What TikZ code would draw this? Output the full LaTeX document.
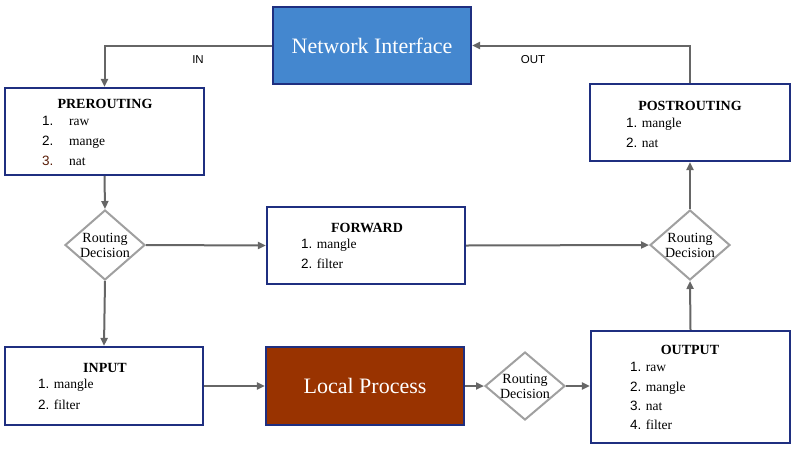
\documentclass[tikz,border=0pt]{standalone}
\usepackage{fontspec}
\setmainfont{Liberation Serif}
\newfontfamily\numfont{Liberation Sans}
\usetikzlibrary{arrows.meta,shapes.geometric}
\definecolor{boxline}{HTML}{1F2F80}
\definecolor{conn}{HTML}{666666}
\definecolor{dline}{HTML}{A0A0A0}
\definecolor{netblue}{HTML}{4487CF}
\definecolor{localred}{HTML}{993300}
\definecolor{numbrown}{HTML}{5A1E08}
\tikzset{
  box/.style={draw=boxline,line width=2.2pt,fill=white,inner sep=0pt},
  bigbox/.style={draw=boxline,line width=2.2pt,inner sep=0pt,text=white,font=\fontsize{22}{24}\selectfont},
  title/.style={font=\fontsize{14}{15}\selectfont\bfseries,inner sep=0pt},
  item/.style={font=\fontsize{13.5}{14}\selectfont,anchor=base west,inner sep=0pt},
  dec/.style={draw=dline,line width=2pt,fill=white,diamond,minimum width=80pt,minimum height=70pt,inner sep=-4pt,align=center,font=\fontsize{14}{15}\selectfont},
  conn/.style={draw=conn,line width=2pt,-{Triangle[length=8pt,width=7pt]}},
  lbl/.style={font=\numfont\fontsize{11.5}{12}\selectfont,inner sep=0pt}
}
\begin{document}
\begin{tikzpicture}[x=1pt,y=-1pt]
\useasboundingbox (0,0) rectangle (795,448);
% boxes
\node[bigbox,fill=netblue,minimum width=198pt,minimum height=77pt] (ni) at (372,45.5) {Network Interface};
\node[bigbox,fill=localred,minimum width=198pt,minimum height=78pt] (lp) at (365,386) {Local Process};
\node[box,minimum width=199pt,minimum height=87pt] (pre) at (104.5,131.5) {};
\node[box,minimum width=200pt,minimum height=77pt] (post) at (690,122.5) {};
\node[box,minimum width=198pt,minimum height=77pt] (fwd) at (366,245.5) {};
\node[box,minimum width=198pt,minimum height=78pt] (inp) at (104,386) {};
\node[box,minimum width=199pt,minimum height=112pt] (out) at (690.5,387) {};
% decisions
\node[dec] (d1) at (105,245) {Routing\\Decision};
\node[dec] (d2) at (690,245) {Routing\\Decision};
\node[dec,minimum height=68pt] (d3) at (525,386) {Routing\\Decision};
% texts PREROUTING
\node[title] (preT) at (105,104) {PREROUTING};
\node[item] (pre1n) at (42,125) {\numfont 1.};
\node[item] (pre1) at (69,125) {raw};
\node[item] (pre2n) at (42,145) {\numfont 2.};
\node[item] (pre2) at (69,145) {mange};
\node[item,text=numbrown] (pre3n) at (42,165) {\numfont 3.};
\node[item] (pre3) at (69,165) {nat};
% POSTROUTING
\node[title] (postT) at (690,106) {POSTROUTING};
\node[item] (post1) at (626,127) {{\numfont 1.} mangle};
\node[item] (post2) at (626,147) {{\numfont 2.} nat};
% FORWARD
\node[title] (fwdT) at (367,228) {FORWARD};
\node[item] (fwd1) at (301,248) {{\numfont 1.} mangle};
\node[item] (fwd2) at (301,268) {{\numfont 2.} filter};
% INPUT
\node[title] (inpT) at (105,368) {INPUT};
\node[item] (inp1) at (38,388) {{\numfont 1.} mangle};
\node[item] (inp2) at (38,409) {{\numfont 2.} filter};
% OUTPUT
\node[title] (outT) at (690,350) {OUTPUT};
\node[item] (out1) at (630,371) {{\numfont 1.} raw};
\node[item] (out2) at (630,391) {{\numfont 2.} mangle};
\node[item] (out3) at (630,410) {{\numfont 3.} nat};
\node[item] (out4) at (630,429) {{\numfont 4.} filter};
% connectors
\draw[conn] (ni.west) -| (pre.north);
\draw[conn] (post.north) |- (ni.east);
\node[lbl] (inl) at (198,60) {IN};
\node[lbl] (outl) at (533,60) {OUT};
\draw[conn] (pre.south) -- (d1.north);
\draw[conn] (d1.east) -- (fwd.west);
\draw[conn] (d1.south) -- (inp.north);
\draw[conn] (fwd.east) -- (d2.west);
\draw[conn] (d2.north) -- (post.south);
\draw[conn] (inp.east) -- (lp.west);
\draw[conn] (lp.east) -- (d3.west);
\draw[conn] (d3.east) -- (out.west |- d3.east);
\draw[conn] (out.north) -- (d2.south);
\end{tikzpicture}
\end{document}
